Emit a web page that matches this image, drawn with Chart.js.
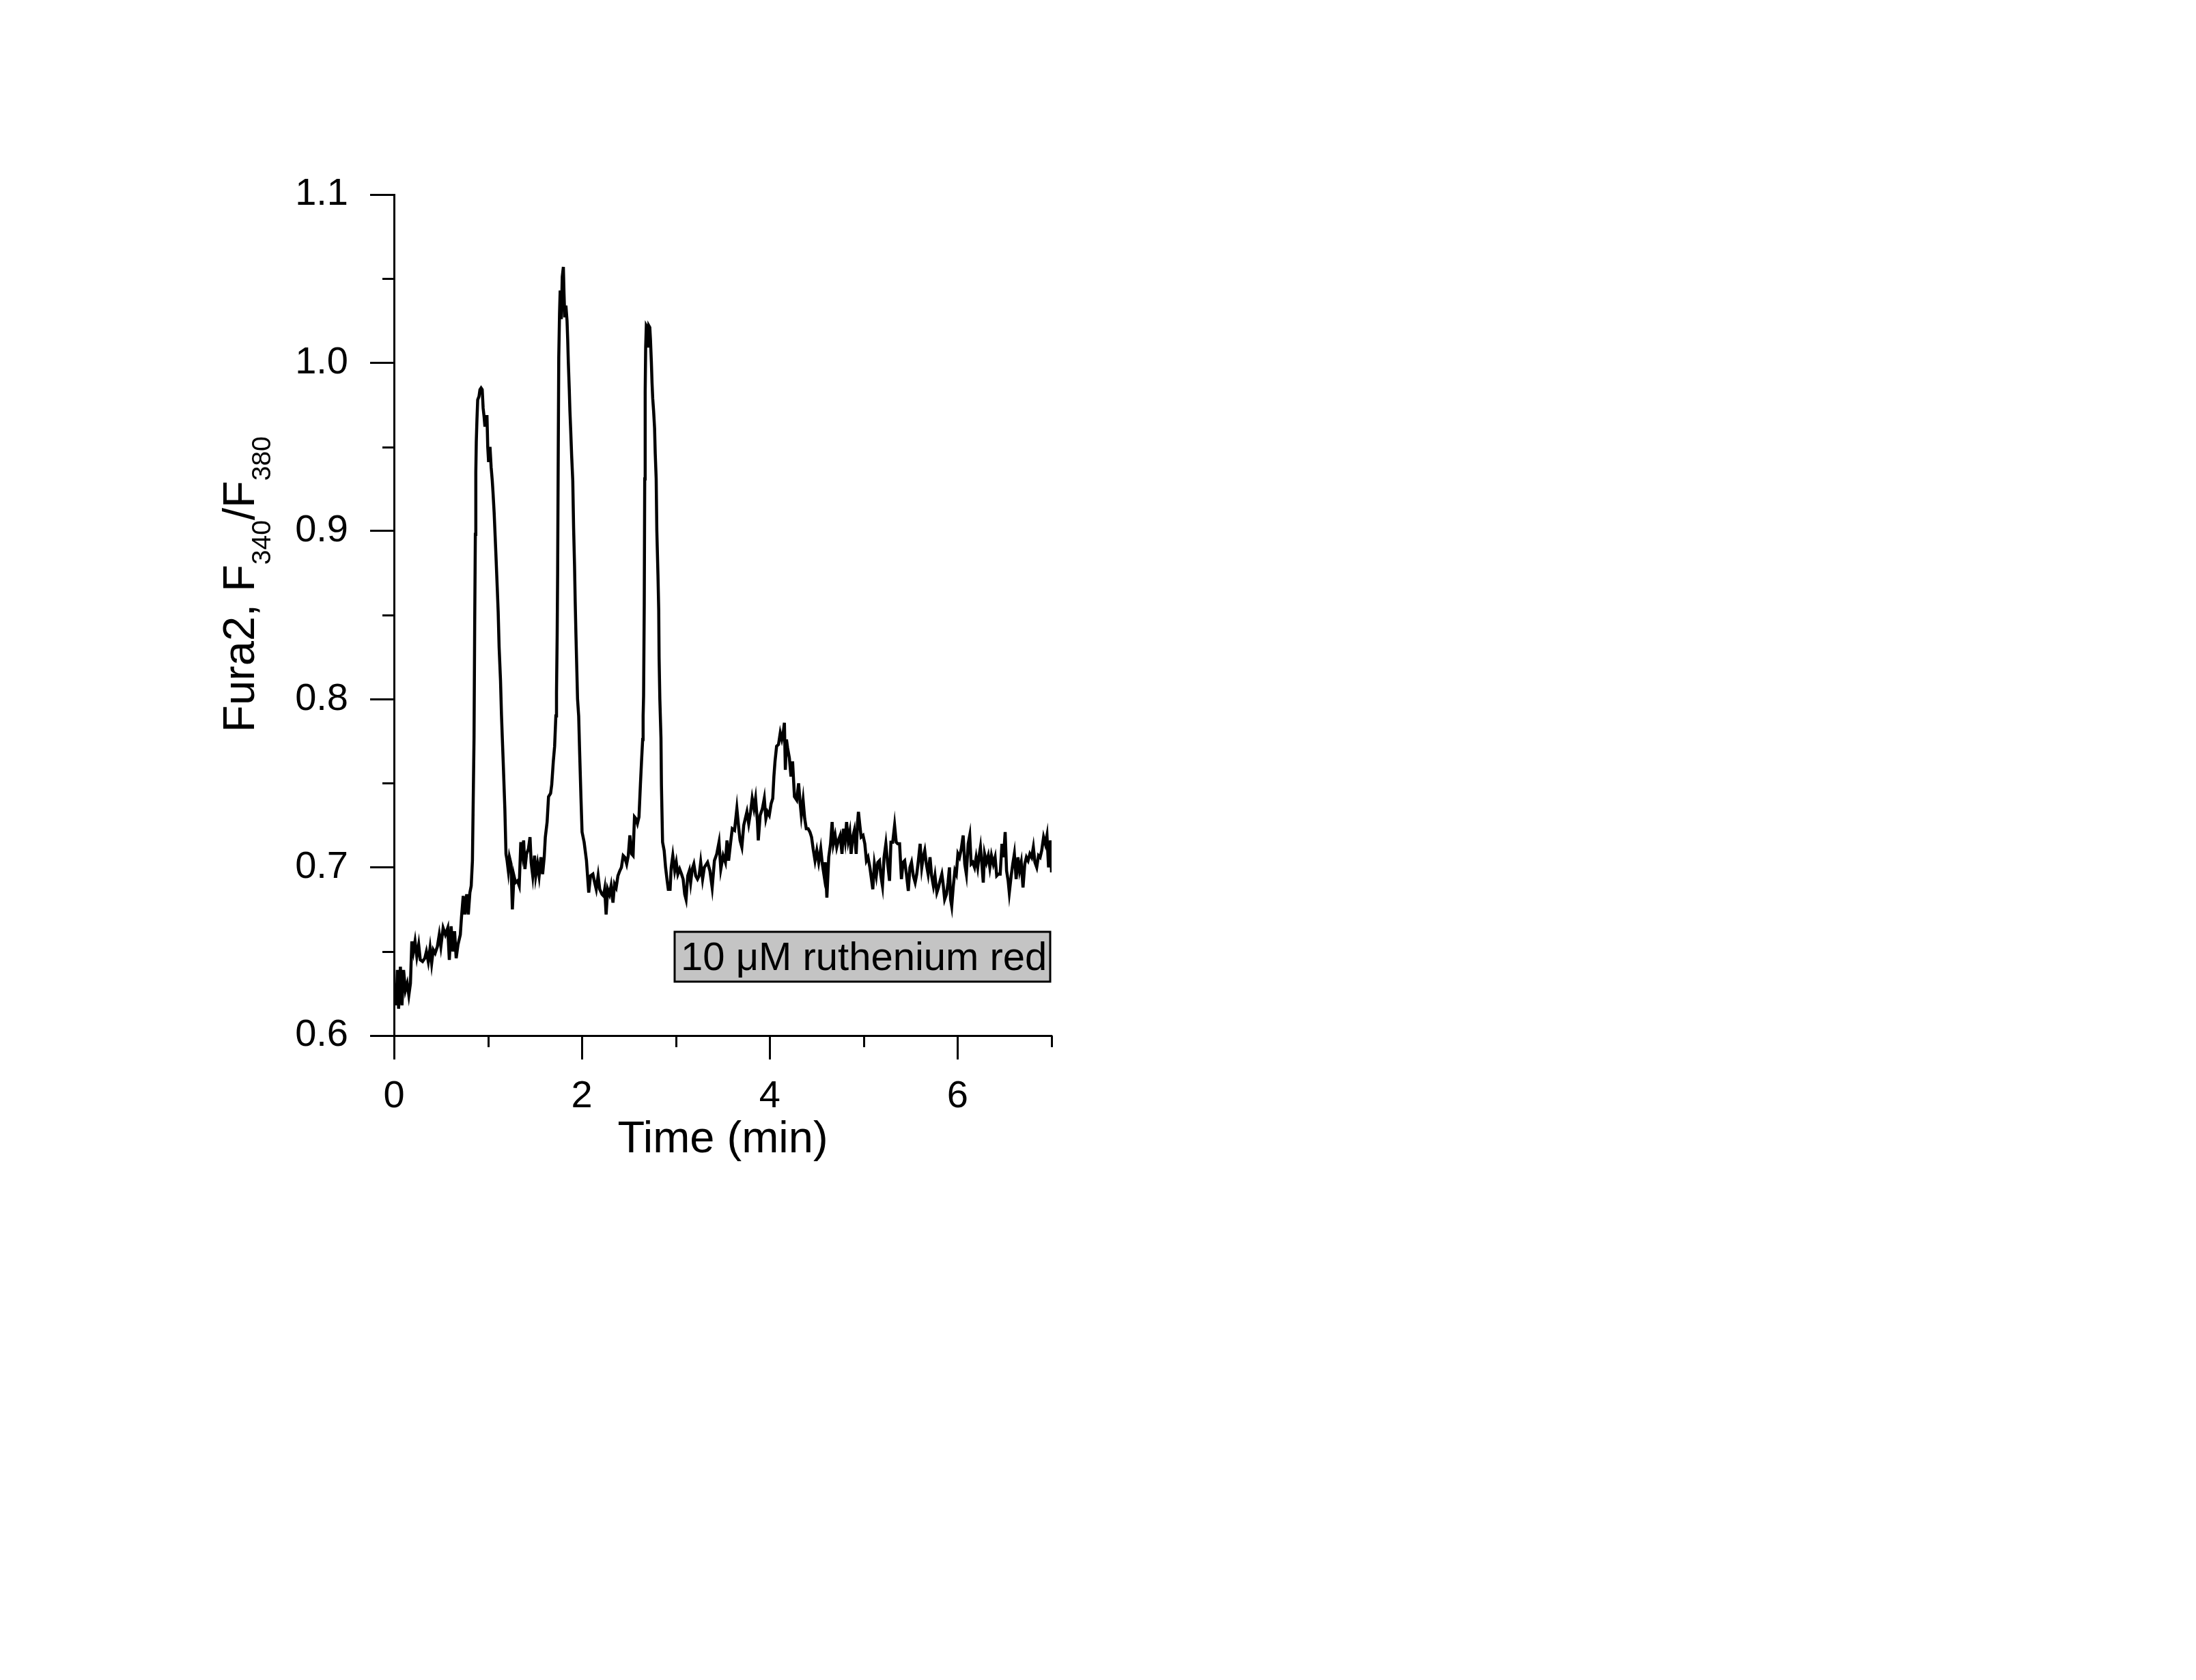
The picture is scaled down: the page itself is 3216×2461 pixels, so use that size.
<!DOCTYPE html>
<html>
<head>
<meta charset="utf-8">
<script src="https://cdn.jsdelivr.net/npm/chart.js@4/dist/chart.umd.min.js"></script>
<style>
  html, body { margin: 0; padding: 0; background: #ffffff; }
  canvas { display: block; }
</style>
</head>
<body>
<canvas id="c" width="3216" height="2461" style="width:3216px;height:2461px"></canvas>
<script>
// ---- data (time in min, Fura2 ratio F340/F380) ----
const times = [
0.000,0.012,0.024,0.036,0.049,0.068,0.085,0.102,0.122,0.141,0.158,0.175,0.190,0.207,0.224,0.243,0.263,0.280,0.304,0.328,
0.345,0.365,0.384,0.401,0.418,0.438,0.462,0.482,0.499,0.523,0.547,0.572,0.589,0.608,0.628,0.645,0.662,0.681,0.706,0.718,
0.737,0.754,0.774,0.791,0.808,0.822,0.835,0.852,0.859,0.866,0.871,0.876,0.883,0.891,0.905,0.915,0.927,0.939,0.949,0.959,
0.968,0.978,0.990,0.998,1.007,1.022,1.034,1.046,1.054,1.066,1.085,1.100,1.109,1.119,1.134,1.144,1.153,1.163,1.180,1.192,
1.204,1.217,1.229,1.246,1.260,1.277,1.294,1.314,1.333,1.350,1.367,1.380,1.394,1.411,1.431,1.448,1.460,1.477,1.496,1.509,
1.528,1.545,1.564,1.582,1.599,1.611,1.630,1.645,1.667,1.679,1.696,1.710,1.723,1.730,1.737,1.742,1.749,1.754,1.762,1.769,
1.781,1.791,1.803,1.810,1.818,1.830,1.842,1.849,1.856,1.866,1.873,1.881,1.891,1.903,1.912,1.922,1.929,1.937,1.946,1.954,
1.966,1.976,1.990,2.002,2.024,2.049,2.073,2.092,2.117,2.136,2.153,2.173,2.190,2.214,2.231,2.243,2.258,2.275,2.294,2.311,
2.331,2.348,2.365,2.384,2.404,2.421,2.440,2.457,2.477,2.494,2.511,2.530,2.545,2.560,2.574,2.591,2.608,2.623,2.635,2.647,
2.652,2.657,2.664,2.669,2.674,2.679,2.686,2.696,2.703,2.713,2.723,2.730,2.740,2.747,2.754,2.764,2.774,2.781,2.791,2.798,
2.810,2.818,2.822,2.830,2.842,2.847,2.859,2.876,2.891,2.908,2.920,2.939,2.951,2.968,2.988,3.005,3.022,3.041,3.061,3.078,
3.095,3.109,3.127,3.144,3.158,3.175,3.192,3.212,3.231,3.248,3.265,3.285,3.304,3.338,3.363,3.387,3.411,3.436,3.460,3.479,
3.504,3.528,3.545,3.562,3.582,3.601,3.625,3.650,3.667,3.684,3.703,3.723,3.740,3.757,3.776,3.796,3.813,3.832,3.849,3.869,
3.878,3.898,3.922,3.942,3.959,3.976,3.995,4.015,4.032,4.044,4.056,4.073,4.093,4.112,4.129,4.141,4.156,4.166,4.178,4.190,
4.209,4.226,4.243,4.263,4.287,4.307,4.324,4.336,4.355,4.372,4.389,4.409,4.428,4.445,4.462,4.482,4.501,4.521,4.543,4.560,
4.579,4.591,4.608,4.628,4.647,4.664,4.677,4.696,4.713,4.730,4.750,4.769,4.786,4.803,4.818,4.835,4.852,4.866,4.883,4.900,
4.920,4.934,4.944,4.959,4.973,4.993,5.012,5.029,5.046,5.066,5.083,5.097,5.114,5.134,5.151,5.168,5.183,5.200,5.217,5.236,
5.256,5.275,5.290,5.309,5.329,5.346,5.363,5.382,5.402,5.419,5.436,5.455,5.475,5.492,5.509,5.528,5.548,5.565,5.582,5.601,
5.618,5.633,5.650,5.667,5.686,5.706,5.723,5.742,5.759,5.779,5.796,5.813,5.832,5.844,5.862,5.881,5.898,5.913,5.925,5.937,
5.954,5.971,5.986,6.003,6.020,6.039,6.059,6.076,6.093,6.112,6.129,6.144,6.161,6.180,6.197,6.214,6.229,6.243,6.258,6.273,
6.287,6.307,6.326,6.343,6.360,6.380,6.399,6.416,6.433,6.453,6.472,6.489,6.506,6.521,6.538,6.550,6.570,6.587,6.604,6.623,
6.642,6.659,6.677,6.696,6.715,6.732,6.750,6.769,6.788,6.806,6.823,6.842,6.861,6.878,6.895,6.915,6.934,6.951,6.968,6.988,
7.000
];
const ratios = [
0.622,0.631,0.618,0.639,0.616,0.641,0.618,0.639,0.627,0.631,0.624,0.631,0.656,0.650,0.656,0.647,0.654,0.645,0.644,0.646,
0.650,0.644,0.652,0.643,0.651,0.649,0.653,0.660,0.653,0.664,0.660,0.664,0.645,0.665,0.650,0.662,0.646,0.654,0.660,0.670,
0.683,0.672,0.684,0.672,0.685,0.689,0.704,0.777,0.844,0.898,0.935,0.953,0.966,0.978,0.980,0.984,0.985,0.984,0.973,0.968,
0.962,0.968,0.968,0.950,0.941,0.950,0.938,0.930,0.923,0.911,0.886,0.865,0.852,0.831,0.811,0.791,0.777,0.762,0.735,0.708,
0.704,0.698,0.706,0.702,0.675,0.695,0.691,0.692,0.689,0.715,0.708,0.716,0.699,0.708,0.711,0.718,0.703,0.695,0.707,0.695,
0.702,0.695,0.706,0.696,0.706,0.718,0.727,0.742,0.744,0.749,0.763,0.772,0.790,0.804,0.838,0.875,0.952,1.003,1.029,1.043,
1.026,1.051,1.057,1.041,1.027,1.034,1.025,1.014,1.000,0.984,0.971,0.960,0.945,0.930,0.902,0.879,0.858,0.838,0.818,0.800,
0.790,0.769,0.742,0.721,0.715,0.704,0.685,0.695,0.696,0.691,0.687,0.695,0.687,0.684,0.683,0.687,0.672,0.687,0.684,0.689,
0.679,0.690,0.688,0.695,0.698,0.700,0.707,0.706,0.702,0.707,0.719,0.708,0.707,0.730,0.729,0.726,0.730,0.749,0.763,0.776,
0.790,0.802,0.856,0.931,0.983,1.009,1.022,1.021,1.009,1.022,1.021,1.014,1.000,0.988,0.979,0.971,0.961,0.946,0.931,0.900,
0.874,0.853,0.825,0.800,0.777,0.749,0.715,0.710,0.700,0.692,0.687,0.687,0.700,0.707,0.698,0.703,0.696,0.699,0.696,0.693,
0.684,0.681,0.695,0.698,0.691,0.699,0.702,0.695,0.693,0.695,0.703,0.693,0.700,0.703,0.698,0.688,0.704,0.708,0.715,0.699,
0.707,0.703,0.716,0.704,0.714,0.723,0.722,0.735,0.725,0.716,0.712,0.725,0.729,0.733,0.726,0.733,0.741,0.735,0.741,0.727,
0.716,0.731,0.735,0.741,0.729,0.733,0.731,0.738,0.741,0.754,0.763,0.772,0.773,0.780,0.776,0.779,0.786,0.758,0.776,0.771,
0.765,0.754,0.763,0.742,0.740,0.750,0.738,0.731,0.740,0.729,0.723,0.723,0.721,0.718,0.711,0.704,0.710,0.703,0.711,0.702,
0.695,0.703,0.682,0.706,0.714,0.727,0.714,0.719,0.712,0.716,0.719,0.708,0.723,0.716,0.727,0.716,0.721,0.708,0.718,0.722,
0.708,0.726,0.733,0.725,0.718,0.719,0.714,0.704,0.706,0.700,0.693,0.687,0.702,0.695,0.703,0.704,0.695,0.689,0.706,0.714,
0.702,0.692,0.715,0.715,0.725,0.715,0.714,0.714,0.693,0.703,0.704,0.696,0.686,0.700,0.703,0.695,0.691,0.696,0.704,0.714,
0.700,0.706,0.710,0.702,0.696,0.706,0.695,0.689,0.695,0.685,0.688,0.692,0.696,0.691,0.681,0.684,0.691,0.700,0.681,0.677,
0.689,0.698,0.696,0.708,0.706,0.711,0.719,0.702,0.696,0.714,0.719,0.702,0.703,0.700,0.706,0.700,0.707,0.712,0.702,0.691,
0.708,0.703,0.707,0.700,0.707,0.702,0.706,0.695,0.696,0.696,0.714,0.706,0.721,0.698,0.692,0.685,0.695,0.702,0.708,0.693,
0.706,0.698,0.703,0.688,0.702,0.706,0.704,0.708,0.706,0.712,0.703,0.700,0.707,0.706,0.710,0.718,0.714,0.719,0.700,0.716,
0.697
];
const xMajorTicks = [0, 2, 4, 6];
const xMinorTicks = [1, 3, 5, 7];
const yMajorTicks = [0.6, 0.7, 0.8, 0.9, 1.0, 1.1];
const yMinorTicks = [0.65, 0.75, 0.85, 0.95, 1.05];
const xTitle = 'Time (min)';
const yTitleParts = [['Fura2, F', false], ['340', true], ['/F', false], ['380', true]];
const annotationText = '10 \u03BCM ruthenium red';

const FONT = '"Liberation Sans", Arial, sans-serif';

const overlay = {
  id: 'overlay',
  afterDraw(chart) {
    const ctx = chart.ctx;
    const xs = chart.scales.x, ys = chart.scales.y;
    const area = chart.chartArea;
    ctx.save();
    // minor ticks
    ctx.strokeStyle = '#000';
    ctx.lineWidth = 3;
    ctx.lineCap = 'butt';
    ctx.beginPath();
    xMinorTicks.forEach(v => {
      const px = Math.round(xs.getPixelForValue(v)) + 0.5;
      ctx.moveTo(px, area.bottom);
      ctx.lineTo(px, area.bottom + 17);
    });
    yMinorTicks.forEach(v => {
      const py = Math.round(ys.getPixelForValue(v)) + 0.5;
      ctx.moveTo(area.left, py);
      ctx.lineTo(area.left - 17, py);
    });
    ctx.stroke();

    // x title
    ctx.fillStyle = '#000';
    ctx.font = '65px ' + FONT;
    ctx.textAlign = 'center';
    ctx.textBaseline = 'alphabetic';
    ctx.fillText(xTitle, (area.left + area.right) / 2, area.bottom + 171);

    // y title with subscripts
    const mainFont = '65px ' + FONT, subFont = '39px ' + FONT;
    let total = 0;
    yTitleParts.forEach(([t, sub]) => { ctx.font = sub ? subFont : mainFont; total += ctx.measureText(t).width; });
    const cy = (area.top + area.bottom) / 2 - 45;
    ctx.translate(area.left - 205, cy + total / 2);
    ctx.rotate(-Math.PI / 2);
    ctx.textAlign = 'left';
    let pos = 0;
    yTitleParts.forEach(([t, sub]) => {
      ctx.font = sub ? subFont : mainFont;
      ctx.fillText(t, pos, sub ? 24 : 0);
      pos += ctx.measureText(t).width;
    });
    ctx.setTransform(1, 0, 0, 1, 0, 0);

    // annotation box
    const bx = 988, by = 1365, bw = area.right - 2 - 988, bh = 73;
    ctx.fillStyle = '#c4c4c4';
    ctx.fillRect(bx, by, bw, bh);
    ctx.lineWidth = 3;
    ctx.strokeStyle = '#000';
    ctx.strokeRect(bx, by, bw, bh);
    ctx.fillStyle = '#000';
    ctx.font = '58px ' + FONT;
    ctx.textAlign = 'left';
    ctx.fillText(annotationText, 997, 1421);
    ctx.restore();
  }
};

new Chart(document.getElementById('c'), {
  type: 'line',
  data: {
    datasets: [{
      data: times.map((t, i) => ({ x: t, y: ratios[i] })),
      borderColor: '#000000',
      borderWidth: 4.5,
      pointRadius: 0,
      tension: 0,
      fill: false,
      borderJoinStyle: 'miter'
    }]
  },
  options: {
    responsive: false,
    animation: false,
    devicePixelRatio: 1,
    parsing: false,
    layout: { padding: { left: 0, top: 285, right: 3216 - 1540, bottom: 0 } },
    plugins: { legend: { display: false }, tooltip: { enabled: false }, title: { display: false } },
    scales: {
      x: {
        type: 'linear',
        min: 0, max: 7,
        afterBuildTicks: s => { s.ticks = xMajorTicks.map(v => ({ value: v })); },
        afterFit: s => { s.height = 2461 - 1517; },
        ticks: {
          callback: v => String(v),
          font: { family: FONT, size: 56 },
          color: '#000',
          padding: 21,
          maxRotation: 0,
          autoSkip: false
        },
        grid: { display: true, drawOnChartArea: false, drawTicks: true, tickLength: 35, tickWidth: 3, tickColor: '#000' },
        border: { display: true, color: '#000', width: 3 }
      },
      y: {
        type: 'linear',
        min: 0.6, max: 1.1,
        afterBuildTicks: s => { s.ticks = yMajorTicks.map(v => ({ value: v })); },
        afterFit: s => { s.width = 577; },
        ticks: {
          callback: v => v.toFixed(1),
          font: { family: FONT, size: 56 },
          color: '#000',
          padding: 32,
          autoSkip: false
        },
        grid: { display: true, drawOnChartArea: false, drawTicks: true, tickLength: 35, tickWidth: 3, tickColor: '#000' },
        border: { display: true, color: '#000', width: 3 }
      }
    }
  },
  plugins: [overlay]
});
</script>
</body>
</html>
